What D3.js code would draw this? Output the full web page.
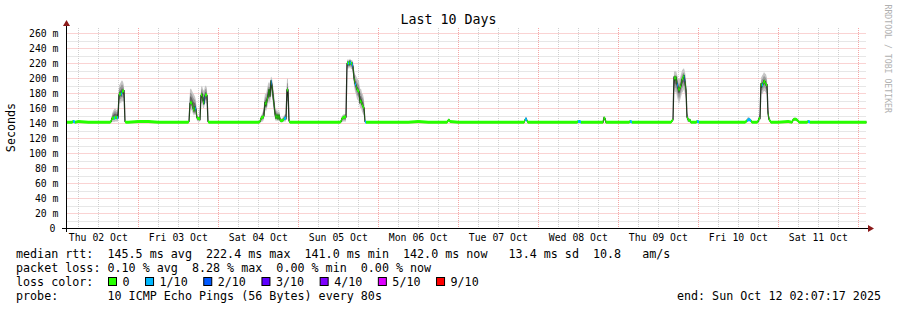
<!DOCTYPE html>
<html>
<head>
<meta charset="utf-8">
<script src="https://cdn.jsdelivr.net/npm/d3@7"></script>
<style>
html, body { margin: 0; padding: 0; background: #fff; }
svg { display: block; font-family: "DejaVu Sans Mono", monospace; }
text { white-space: pre; }
</style>
</head>
<body>
<svg id="chart" width="897" height="310"></svg>
<script>
/** Data **/
var startTime = new Date(2025, 9, 2, 2, 7, 17);
var endTime = new Date(2025, 9, 12, 2, 7, 17);
var yTicks = [0, 20, 40, 60, 80, 100, 120, 140, 160, 180, 200, 220, 240, 260];

// median rtt (ms) on quiet stretches, one value every 3 hours from Thu 02 Oct 00:00
var baseStart = "2025-10-02 00:00";
var baseStepHours = 3;
var baseMedian = [
	141, 141, 142, 141, 141, 141, 141, 141,   // Oct 02
	142, 142, 141, 141, 141, 141, 141, 141,   // Oct 03
	141, 141, 141, 141, 141, 141, 141, 141,   // Oct 04
	141, 141, 141, 141, 141, 141, 141, 141,   // Oct 05
	141, 141, 141, 141, 142, 141, 141, 141,   // Oct 06
	141, 141, 141, 141, 141, 141, 141, 141,   // Oct 07
	141, 141, 141, 141, 141, 141, 141, 141,   // Oct 08
	141, 141, 141, 141, 141, 141, 141, 141,   // Oct 09
	141, 141, 141, 141, 141, 141, 141, 141,   // Oct 10
	141, 142, 142, 141, 141, 141, 141, 141,   // Oct 11
	141, 141                                  // Oct 12
];

// busier episodes, one value every 18 minutes (one pixel column)
var stepMinutes = 18;
var episodeStart = [
	"2025-10-02 04:06", "2025-10-02 15:30", "2025-10-03 14:54", "2025-10-04 12:12",
	"2025-10-05 12:30", "2025-10-06 20:36", "2025-10-07 19:42", "2025-10-08 11:36",
	"2025-10-08 19:24", "2025-10-09 03:12", "2025-10-09 15:48", "2025-10-09 23:18",
	"2025-10-10 14:00", "2025-10-10 17:36", "2025-10-11 04:06", "2025-10-11 08:36"
];
var episodeMedian = [
	[141, 142, 142, 141],
	[141, 142, 146, 147, 146, 147, 148, 147, 147, 177, 180, 177, 181, 183, 183, 142, 141],
	[141, 142, 166, 168, 166, 160, 156, 162, 157, 147, 146, 146, 145, 177, 178, 170, 165, 176, 178, 177, 142, 141],
	[141, 142, 146, 148, 147, 150, 168, 164, 170, 175, 185, 175, 197, 190, 177, 165, 152, 146, 151, 145, 151, 144, 143, 143, 144, 145, 147, 146, 184, 184, 143, 141],
	[141, 142, 146, 147, 148, 148, 148, 219, 221, 218, 222, 219, 220, 215, 200, 193, 190, 185, 183, 182, 168, 170, 165, 162, 160, 142, 141],
	[141, 143, 144, 142],
	[141, 144, 146, 143, 141],
	[141, 142, 142, 142, 141],
	[141, 147, 146, 141],
	[141, 142, 142, 141],
	[141, 143, 144, 202, 198, 202, 193, 188, 183, 187, 190, 198, 200, 204, 195, 184, 148, 145, 143, 144, 141],
	[141, 142, 142, 141],
	[141, 142, 143, 144, 145, 144, 143, 141],
	[141, 142, 146, 146, 193, 189, 192, 196, 195, 191, 191, 153, 145, 143, 141],
	[141, 144, 145, 145, 145, 144, 143, 141],
	[141, 142, 142, 141]
];
var episodeLo = [
	[141, 142, 142, 141],
	[141, 141, 141, 142, 141, 142, 142, 142, 142, 165, 168, 166, 170, 168, 170, 141, 141],
	[141, 141, 160, 158, 156, 152, 150, 152, 150, 143, 142, 142, 142, 165, 168, 160, 160, 166, 168, 165, 141, 141],
	[141, 141, 141, 142, 142, 145, 158, 155, 160, 165, 170, 165, 180, 175, 165, 155, 145, 142, 144, 142, 144, 141, 141, 141, 141, 142, 142, 142, 170, 168, 141, 141],
	[141, 141, 141, 142, 142, 142, 142, 210, 214, 212, 215, 212, 212, 205, 190, 182, 178, 172, 170, 168, 160, 160, 155, 152, 150, 141, 141],
	[141, 142, 143, 142],
	[141, 142, 143, 142, 141],
	[141, 142, 142, 142, 141],
	[141, 143, 143, 141],
	[141, 142, 142, 141],
	[141, 141, 142, 185, 180, 182, 175, 170, 165, 170, 175, 180, 182, 185, 178, 172, 142, 142, 141, 141, 141],
	[141, 142, 142, 141],
	[141, 141, 141, 142, 142, 142, 141, 141],
	[141, 141, 142, 142, 180, 178, 180, 183, 182, 180, 178, 146, 142, 141, 141],
	[141, 142, 143, 143, 143, 142, 142, 141],
	[141, 142, 142, 141]
];
var episodeHi = [
	[142, 143, 143, 142],
	[142, 143, 152, 156, 158, 160, 158, 157, 160, 190, 192, 195, 197, 195, 190, 143, 142],
	[142, 143, 185, 186, 183, 180, 178, 175, 170, 150, 149, 149, 148, 187, 190, 185, 183, 189, 190, 186, 144, 142],
	[142, 143, 150, 152, 156, 165, 180, 178, 185, 192, 195, 192, 202, 200, 190, 180, 165, 155, 160, 152, 158, 150, 146, 146, 148, 150, 152, 152, 200, 198, 146, 142],
	[142, 143, 150, 151, 152, 152, 152, 224, 225, 224, 226, 224, 224, 222, 212, 205, 203, 200, 198, 196, 185, 186, 180, 178, 172, 144, 142],
	[142, 145, 146, 143],
	[142, 146, 148, 145, 142],
	[142, 143, 144, 143, 142],
	[142, 149, 148, 142],
	[142, 143, 143, 142],
	[142, 145, 147, 210, 208, 210, 205, 200, 198, 200, 205, 210, 212, 213, 208, 200, 155, 150, 146, 146, 142],
	[142, 143, 143, 142],
	[142, 143, 146, 148, 148, 146, 144, 142],
	[142, 143, 150, 152, 200, 203, 205, 208, 206, 205, 200, 162, 150, 146, 142],
	[142, 146, 147, 147, 147, 146, 145, 142],
	[142, 143, 143, 142]
];
// lost pings out of 10
var episodeLoss = [
	[0, 1, 1, 0],
	[0, 0, 0, 0, 1, 0, 0, 1, 0, 0, 0, 1, 0, 0, 0, 0, 0],
	[0, 0, 0, 0, 0, 0, 0, 1, 0, 0, 0, 0, 0, 0, 0, 0, 1, 0, 0, 0, 0, 0],
	[0, 0, 0, 0, 0, 0, 0, 0, 0, 0, 0, 0, 1, 0, 0, 0, 0, 0, 0, 0, 0, 0, 0, 0, 0, 1, 1, 0, 0, 0, 0, 0],
	[0, 0, 0, 0, 0, 0, 0, 0, 1, 0, 1, 0, 1, 0, 0, 1, 0, 0, 0, 0, 0, 0, 0, 0, 0, 1, 0],
	[0, 0, 0, 0],
	[0, 1, 1, 0, 0],
	[0, 1, 1, 1, 0],
	[0, 0, 0, 0],
	[0, 1, 1, 0],
	[0, 0, 0, 0, 0, 0, 1, 0, 0, 0, 0, 0, 0, 1, 0, 0, 0, 0, 0, 0, 0],
	[0, 1, 1, 0],
	[0, 0, 1, 1, 1, 1, 0, 0],
	[0, 0, 0, 0, 0, 1, 0, 0, 0, 0, 0, 0, 0, 0, 0],
	[0, 0, 0, 0, 0, 0, 0, 0],
	[0, 1, 1, 0]
];

var lossLabels = ["0", "1/10", "2/10", "3/10", "4/10", "5/10", "9/10"];
var lossColors = ["#26ff00", "#00b8ff", "#0059ff", "#5e00ff", "#7e00ff", "#dd00ff", "#ff0000"];

var titleText = "Last 10 Days";
var yTitle = "Seconds";
var statsLine = "median rtt:  145.5 ms avg  222.4 ms max  141.0 ms min  142.0 ms now   13.4 ms sd  10.8   am/s";
var lossLine = "packet loss: 0.10 % avg  8.28 % max  0.00 % min  0.00 % now";
var probeText = "10 ICMP Echo Pings (56 Bytes) every 80s";
var endText = "end: Sun Oct 12 02:07:17 2025";

/** Initialization **/
var svg = d3.select("#chart");
var plotLeft = 66.5, plotRight = 866.5, plotTop = 28, plotBottom = 228;
var x = d3.scaleTime().domain([startTime, endTime]).range([65.4, 865.4]);
var y = d3.scaleLinear().domain([0, 266.67]).range([plotBottom, plotTop]);
var parseTime = d3.timeParse("%Y-%m-%d %H:%M");

//Merge the quiet baseline with the detailed episodes
var episodes = episodeStart.map(function(s, i) {
	var t0 = parseTime(s);
	return { i: i, t0: t0, t1: d3.timeMinute.offset(t0, stepMinutes * episodeMedian[i].length) };
});
var samples = [];
var b0 = parseTime(baseStart);
baseMedian.forEach(function(v, k) {
	var t = d3.timeHour.offset(b0, k * baseStepHours);
	var inside = episodes.some(function(e) { return t >= e.t0 && t < e.t1; });
	if (!inside) samples.push({ t: t, med: v, lo: v, hi: v, loss: 0 });
});
episodes.forEach(function(e) {
	episodeMedian[e.i].forEach(function(v, k) {
		samples.push({
			t: d3.timeMinute.offset(e.t0, k * stepMinutes),
			med: v, lo: episodeLo[e.i][k], hi: episodeHi[e.i][k], loss: episodeLoss[e.i][k]
		});
	});
});
samples.sort(function(a, b) { return a.t - b.t; });

function lossIndex(l) { return l > 5 ? 6 : l; }

/** Grid **/
var grid = svg.append("g").attr("class", "grid").attr("stroke-dasharray", "1,1").attr("stroke-width", 1);
var minorY = d3.range(10, 270, 20);
grid.selectAll("line.hminor").data(minorY).enter().append("line")
	.attr("x1", plotLeft).attr("x2", plotRight)
	.attr("y1", function(d) { return Math.round(y(d)) + 0.5; })
	.attr("y2", function(d) { return Math.round(y(d)) + 0.5; })
	.attr("stroke", "#cfcfcf");
var sixHours = d3.timeHour.every(6).range(startTime, endTime).filter(function(d) { return d.getHours() !== 0; });
grid.selectAll("line.vminor").data(sixHours).enter().append("line")
	.attr("x1", function(d) { return Math.round(x(d)) + 0.5; })
	.attr("x2", function(d) { return Math.round(x(d)) + 0.5; })
	.attr("y1", plotTop).attr("y2", plotBottom)
	.attr("stroke", "#cfcfcf");
grid.selectAll("line.hmajor").data(yTicks.slice(1)).enter().append("line")
	.attr("x1", plotLeft).attr("x2", plotRight)
	.attr("y1", function(d) { return Math.round(y(d)) + 0.5; })
	.attr("y2", function(d) { return Math.round(y(d)) + 0.5; })
	.attr("stroke", "#f5a6a6");
var days = d3.timeDay.range(startTime, endTime);
grid.selectAll("line.vmajor").data(days).enter().append("line")
	.attr("x1", function(d) { return Math.round(x(d)) + 0.5; })
	.attr("x2", function(d) { return Math.round(x(d)) + 0.5; })
	.attr("y1", plotTop).attr("y2", plotBottom)
	.attr("stroke", "#f5a6a6");

/** Data marks **/
svg.append("clipPath").attr("id", "plotclip").append("rect")
	.attr("x", plotLeft).attr("y", plotTop).attr("width", plotRight - plotLeft).attr("height", plotBottom - plotTop);
var plot = svg.append("g").attr("clip-path", "url(#plotclip)");

//Smoke: spread of the 10 pings, darker towards the middle
var smokeBands = [[0, 1, "#c6c6c6"], [0.2, 0.8, "#9a9a9a"], [0.38, 0.62, "#666666"]];
smokeBands.forEach(function(b) {
	var area = d3.area()
		.x(function(d) { return x(d.t); })
		.y0(function(d) { return y(d.lo + (d.hi - d.lo) * b[0]); })
		.y1(function(d) { return y(d.lo + (d.hi - d.lo) * b[1]); });
	plot.append("path").datum(samples).attr("d", area).attr("fill", b[2]);
});

//Median line
var medianLine = d3.line()
	.x(function(d) { return x(d.t); })
	.y(function(d) { return y(d.med); });
plot.append("path").datum(samples).attr("d", medianLine)
	.attr("fill", "none").attr("stroke", "#202020").attr("stroke-width", 1.3);

//Loss coloured band around the median
var runs = [];
var cur = null;
for (var i = 0; i < samples.length - 1; i++) {
	var c = lossIndex(samples[i].loss);
	if (!cur || cur.c !== c) {
		cur = { c: c, pts: [samples[i]] };
		runs.push(cur);
	}
	cur.pts.push(samples[i + 1]);
}
var band = d3.area()
	.x(function(d) { return x(d.t); })
	.y0(function(d) { return y(d.med) + 1.5; })
	.y1(function(d) { return y(d.med) - 1.5; });
plot.selectAll("path.loss").data(runs).enter().append("path")
	.attr("d", function(d) { return band(d.pts); })
	.attr("fill", function(d) { return lossColors[d.c]; });

/** Axes **/
var axes = svg.append("g");
axes.append("line").attr("x1", 62).attr("x2", 869).attr("y1", 228.5).attr("y2", 228.5)
	.attr("stroke", "#000").attr("stroke-width", 1);
axes.append("line").attr("x1", 66.5).attr("x2", 66.5).attr("y1", 232).attr("y2", 25)
	.attr("stroke", "#000").attr("stroke-width", 1);
axes.append("path").attr("d", "M868,225L874,228.5L868,232Z").attr("fill", "#8b1a1a");
axes.append("path").attr("d", "M63,26L66.5,20L70,26Z").attr("fill", "#8b1a1a");

axes.selectAll("text.ylab").data(yTicks).enter().append("text")
	.attr("x", function(d) { return d === 0 ? 55.5 : 58.5; })
	.attr("y", function(d) { return y(d) + 3.6; })
	.attr("text-anchor", "end")
	.attr("font-size", 9.8)
	.text(function(d) { return d === 0 ? "0" : d + " m"; });

var fmtDay = d3.timeFormat("%a %d %b");
var noons = d3.timeDay.range(d3.timeDay.floor(startTime), endTime)
	.map(function(d) { return d3.timeHour.offset(d, 12); })
	.filter(function(d) { return d < endTime; });
axes.selectAll("text.xlab").data(noons).enter().append("text")
	.attr("x", function(d) { return x(d); })
	.attr("y", 241)
	.attr("text-anchor", "middle")
	.attr("font-size", 9.8)
	.text(function(d) { return fmtDay(d); });

/** Titles **/
svg.append("text").attr("x", 448.5).attr("y", 24).attr("text-anchor", "middle")
	.attr("font-size", 13.3).text(titleText);
svg.append("text").attr("transform", "translate(15,127.5) rotate(-90)")
	.attr("text-anchor", "middle").attr("font-size", 11.7).text(yTitle);
svg.append("text").attr("transform", "translate(885,4.5) rotate(90)")
	.attr("font-size", 8.2).attr("fill", "#b0b0b0").text("RRDTOOL / TOBI OETIKER");

/** Legend **/
var legend = svg.append("g").attr("font-size", 11.7);
legend.append("text").attr("x", 16).attr("y", 258).text(statsLine);
legend.append("text").attr("x", 16).attr("y", 272).text(lossLine);
legend.append("text").attr("x", 16).attr("y", 286).text("loss color:");
legend.append("text").attr("x", 16).attr("y", 300).text("probe:");
legend.append("text").attr("x", 107.5).attr("y", 300).text(probeText);
legend.append("text").attr("x", 881).attr("y", 300).attr("text-anchor", "end").text(endText);

var charW = 7.05;
var sx = 108.5;
lossLabels.forEach(function(lbl, i) {
	legend.append("rect").attr("x", sx).attr("y", 277.5).attr("width", 8).attr("height", 8)
		.attr("fill", lossColors[i]).attr("stroke", "#000").attr("stroke-width", 1);
	legend.append("text").attr("x", sx + 14).attr("y", 286).text(lbl);
	sx = sx + 14 + lbl.length * charW + 16;
});
</script>
</body>
</html>
